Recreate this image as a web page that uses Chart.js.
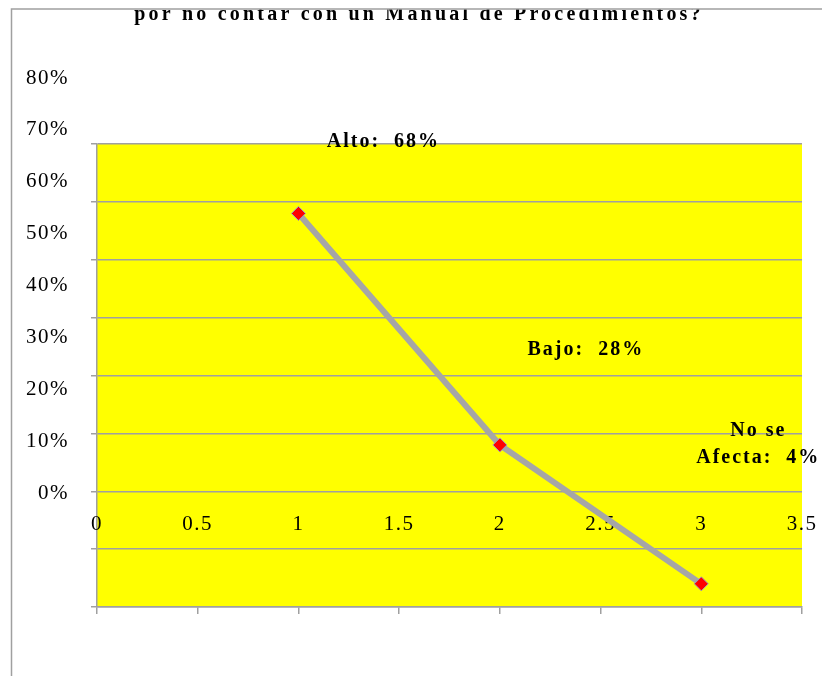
<!DOCTYPE html>
<html>
<head>
<meta charset="utf-8">
<script src="https://cdn.jsdelivr.net/npm/chart.js@4.4.1/dist/chart.umd.min.js"></script>
<style>
  html, body { margin: 0; padding: 0; background: #ffffff; overflow: hidden; }
  canvas { display: block; }
</style>
</head>
<body>
<canvas id="chart" width="822" height="676"></canvas>
<script>
// Survey answers: impact level, position on the x axis, and share of answers
const categories = ['Alto', 'Bajo', ['No se', 'Afecta']];
const positions = [1, 2, 3];
const shares = [0.68, 0.28, 0.04];

// Tick labels
const xTickLabels = ['0', '0.5', '1', '1.5', '2', '2.5', '3', '3.5'];
const yTickLabels = ['0%', '10%', '20%', '30%', '40%', '50%', '60%', '70%', '80%'];

const titleText = 'por no contar con un Manual de Procedimientos?';

const SERIF = '"Liberation Serif", "Times New Roman", serif';
const GRID = '#a0a0a0';

// Layout of the hand-drawn text pieces
const layoutCfg = {
  yLabelRight: 69,
  yLabelTop: 78,      // centre of the highest y label
  yLabelBottom: 493,  // centre of the lowest y label
  xLabelRow: 524,
  valueOffsets: [[85, -72], [86, -95], [57, -126]],
  valueLineHeight: 27,
  titleX: 419,
  titleBaseline: 20,
  frameTop: 9,
  frameLeft: 11.5
};

const decorPlugin = {
  id: 'decor',
  beforeDraw(chart) {
    const { ctx, chartArea: a } = chart;
    ctx.save();
    ctx.fillStyle = '#ffff00';
    ctx.fillRect(a.left, a.top, a.right - a.left, a.bottom - a.top);
    ctx.restore();
  },
  beforeDatasetsDraw(chart) {
    // x tick labels sit inside the plot, underneath the line
    const { ctx } = chart;
    const xs = chart.scales.x;
    ctx.save();
    ctx.font = '21px ' + SERIF;
    ctx.letterSpacing = '1.5px';
    ctx.fillStyle = '#000000';
    ctx.textAlign = 'center';
    ctx.textBaseline = 'middle';
    xs.ticks.forEach((t, i) => {
      ctx.fillText(xTickLabels[i], xs.getPixelForValue(t.value), layoutCfg.xLabelRow);
    });
    ctx.restore();
  },
  afterDraw(chart) {
    const { ctx, width, height } = chart;
    const ys = chart.scales.y;
    ctx.save();

    // y tick labels
    ctx.font = '21px ' + SERIF;
    ctx.letterSpacing = '1.5px';
    ctx.fillStyle = '#000000';
    ctx.textAlign = 'right';
    ctx.textBaseline = 'middle';
    const n = ys.ticks.length - 1;
    ys.ticks.forEach((t, i) => {
      const yPix = layoutCfg.yLabelBottom - (layoutCfg.yLabelBottom - layoutCfg.yLabelTop) * i / n;
      ctx.fillText(yTickLabels[i], layoutCfg.yLabelRight, yPix);
    });

    // value labels
    ctx.font = 'bold 20px ' + SERIF;
    ctx.letterSpacing = '2px';
    ctx.textAlign = 'center';
    const pts = chart.getDatasetMeta(0).data;
    pts.forEach((p, i) => {
      const name = categories[i];
      const lines = Array.isArray(name) ? name.slice() : [name];
      lines[lines.length - 1] += ':  ' + Math.round(shares[i] * 100) + '%';
      const [dx, dy] = layoutCfg.valueOffsets[i];
      lines.forEach((ln, k) => {
        const yy = p.y + dy - (lines.length - 1 - k) * layoutCfg.valueLineHeight;
        ctx.fillText(ln, p.x + dx, yy);
      });
    });

    // title, cut off by the top of the frame
    ctx.save();
    ctx.beginPath();
    ctx.rect(0, layoutCfg.frameTop, width, height);
    ctx.clip();
    ctx.font = 'bold 20px ' + SERIF;
    ctx.letterSpacing = '3.2px';
    ctx.textAlign = 'center';
    ctx.textBaseline = 'alphabetic';
    ctx.fillText(titleText, layoutCfg.titleX, layoutCfg.titleBaseline);
    ctx.restore();

    // outer frame
    ctx.strokeStyle = GRID;
    ctx.lineWidth = 1.5;
    ctx.beginPath();
    ctx.moveTo(layoutCfg.frameLeft, height);
    ctx.lineTo(layoutCfg.frameLeft, layoutCfg.frameTop);
    ctx.lineTo(width, layoutCfg.frameTop);
    ctx.stroke();

    ctx.restore();
  }
};

new Chart(document.getElementById('chart'), {
  type: 'line',
  data: {
    datasets: [{
      data: positions.map((x, i) => ({ x: x, y: shares[i] })),
      borderColor: '#a6a6a6',
      borderWidth: 6,
      tension: 0,
      pointStyle: 'rectRot',
      pointRadius: 7,
      pointHoverRadius: 7,
      pointBackgroundColor: '#ff0000',
      pointBorderColor: '#9a9ac4',
      pointBorderWidth: 1
    }]
  },
  options: {
    responsive: false,
    animation: false,
    devicePixelRatio: 1,
    layout: { padding: { left: 91, right: 20, top: 144, bottom: 62 } },
    plugins: { legend: { display: false }, tooltip: { enabled: false } },
    scales: {
      x: {
        type: 'linear',
        min: 0,
        max: 3.5,
        ticks: { display: false, stepSize: 0.5 },
        grid: { drawOnChartArea: false, drawTicks: true, tickLength: 7, color: GRID, lineWidth: 1.5 },
        border: { display: true, color: GRID, width: 1.5 }
      },
      y: {
        min: 0,
        max: 0.8,
        ticks: { display: false, stepSize: 0.1 },
        grid: { drawTicks: true, tickLength: 6, color: GRID, lineWidth: 1.5 },
        border: { display: true, color: GRID, width: 1.5 }
      }
    }
  },
  plugins: [decorPlugin]
});
</script>
</body>
</html>
